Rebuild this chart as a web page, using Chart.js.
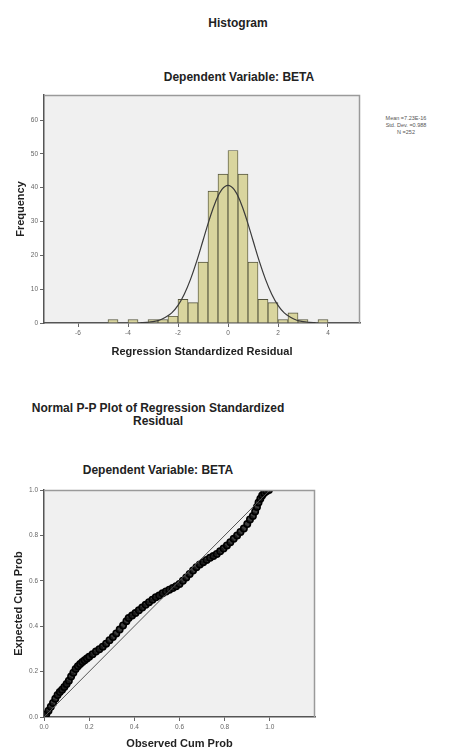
<!DOCTYPE html>
<html>
<head>
<meta charset="utf-8">
<script src="https://cdn.jsdelivr.net/npm/chart.js@4"></script>
<style>
  html, body { margin:0; padding:0; background:#fff; }
  body { width:449px; height:751px; position:relative; overflow:hidden; font-family:"Liberation Sans", Arial, sans-serif; }
  .t { position:absolute; text-align:center; font-weight:bold; color:#222; white-space:nowrap; }
  canvas { position:absolute; left:0; }
</style>
</head>
<body>
<div class="t" style="left:138px; width:200px; top:15px; line-height:16px; font-size:12px;">Histogram</div>
<div class="t" style="left:89px; width:300px; top:69px; line-height:16px; font-size:12px;">Dependent Variable: BETA</div>
<div class="t" id="stats" style="left:366px; width:80px; top:115px; line-height:7px; font-size:5.5px; font-weight:normal; color:#555;"></div>
<div class="t" style="left:0px; width:316px; top:402px; line-height:13px; font-size:12px;">Normal P-P Plot of Regression Standardized<br>Residual</div>
<div class="t" style="left:0px; width:316px; top:462px; line-height:16px; font-size:12px;">Dependent Variable: BETA</div>
<canvas id="hist" width="449" height="285" style="top:85px;"></canvas>
<canvas id="pp" width="449" height="271" style="top:480px;"></canvas>
<script>
// ---- Histogram data ----
const binCenters = [-4.6, -4.2, -3.8, -3.4, -3.0, -2.6, -2.2, -1.8, -1.4, -1.0, -0.6, -0.2, 0.2, 0.6, 1.0, 1.4, 1.8, 2.2, 2.6, 3.0, 3.4, 3.8];
const binCounts  = [1, 0, 1, 0, 1, 1, 2, 7, 6, 18, 39, 44, 51, 44, 18, 7, 6, 1, 3, 1, 0, 1];
const curveX = [-3.5, -3.25, -3.0, -2.75, -2.5, -2.25, -2.0, -1.75, -1.5, -1.25, -1.0, -0.75, -0.5, -0.25, 0, 0.25, 0.5, 0.75, 1.0, 1.25, 1.5, 1.75, 2.0, 2.25, 2.5, 2.75, 3.0, 3.25, 3.5];
const curveY = [0.1, 0.2, 0.4, 0.8, 1.7, 3.0, 5.2, 8.5, 12.9, 18.3, 24.4, 30.5, 35.8, 39.4, 40.7, 39.4, 35.8, 30.5, 24.4, 18.3, 12.9, 8.5, 5.2, 3.0, 1.7, 0.8, 0.4, 0.2, 0.1];
const histXTicks = [-6, -4, -2, 0, 2, 4];
const histYTicks = [0, 10, 20, 30, 40, 50, 60];
const statsLines = ["Mean =7.23E-16", "Std. Dev. =0.988", "N =252"];

// ---- P-P plot data ----
const ppObserved = [0.000,0.010,0.020,0.030,0.040,0.050,0.060,0.070,0.080,0.090,0.100,0.110,0.120,0.130,0.140,0.150,0.160,0.170,0.180,0.190,0.200,0.215,0.230,0.245,0.260,0.275,0.290,0.305,0.320,0.335,0.350,0.365,0.375,0.390,0.405,0.420,0.435,0.450,0.465,0.480,0.495,0.510,0.525,0.540,0.555,0.570,0.585,0.600,0.615,0.630,0.645,0.660,0.675,0.690,0.705,0.720,0.735,0.750,0.765,0.780,0.795,0.810,0.825,0.840,0.855,0.870,0.885,0.900,0.912,0.925,0.935,0.943,0.950,0.958,0.966,0.975,0.985,0.996];
const ppExpected = [0.000,0.012,0.028,0.045,0.062,0.080,0.097,0.110,0.120,0.132,0.145,0.160,0.178,0.195,0.212,0.224,0.233,0.242,0.250,0.258,0.265,0.276,0.288,0.298,0.310,0.323,0.338,0.352,0.368,0.385,0.403,0.422,0.436,0.447,0.458,0.470,0.482,0.494,0.506,0.517,0.527,0.535,0.545,0.553,0.561,0.568,0.576,0.586,0.600,0.615,0.630,0.645,0.660,0.672,0.682,0.692,0.701,0.709,0.718,0.730,0.742,0.756,0.770,0.785,0.800,0.815,0.830,0.850,0.870,0.886,0.905,0.925,0.945,0.962,0.976,0.987,0.995,1.000];
const ppXTicks = [0, 0.2, 0.4, 0.6, 0.8, 1.0];
const ppYTicks = [0, 0.2, 0.4, 0.6, 0.8, 1.0];

document.getElementById('stats').innerHTML = statsLines.join('<br>');

const frame = {
  id: 'frame',
  beforeDraw(chart) {
    const {ctx, chartArea: a} = chart;
    ctx.save();
    ctx.fillStyle = '#f0f0f0';
    ctx.fillRect(a.left, a.top, a.right - a.left, a.bottom - a.top);
    ctx.restore();
  },
  afterDraw(chart) {
    const {ctx, chartArea: a} = chart;
    ctx.save();
    ctx.strokeStyle = '#9a9a9a';
    ctx.lineWidth = 1.5;
    ctx.beginPath();
    ctx.moveTo(a.left, a.top + 0.5);
    ctx.lineTo(a.right - 0.5, a.top + 0.5);
    ctx.lineTo(a.right - 0.5, a.bottom);
    ctx.stroke();
    ctx.restore();
  }
};

const tickFont = { family: '"Liberation Sans", Arial, sans-serif', size: 6.5 };
const titleFont = { family: '"Liberation Sans", Arial, sans-serif', size: 11, weight: 'bold' };

function fixedTicks(arr) {
  return s => { s.ticks = arr.map(v => ({ value: v })); };
}

new Chart(document.getElementById('hist'), {
  type: 'bar',
  data: {
    datasets: [
      {
        type: 'line',
        data: curveX.map((x, i) => ({ x, y: curveY[i] })),
        borderColor: '#3a3a3a',
        borderWidth: 1.2,
        pointRadius: 0,
        tension: 0.4,
        fill: false,
        order: 0
      },
      {
        type: 'bar',
        data: binCenters.map((x, i) => ({ x, y: binCounts[i] })),
        backgroundColor: '#d9d59e',
        borderColor: '#55553f',
        borderWidth: 0.9,
        barPercentage: 1,
        categoryPercentage: 1,
        order: 1
      }
    ]
  },
  options: {
    responsive: false,
    animation: false,
    devicePixelRatio: 1,
    layout: { padding: { left: 0, right: 89, top: 10, bottom: 0 } },
    plugins: { legend: { display: false }, tooltip: { enabled: false } },
    scales: {
      x: {
        type: 'linear', min: -7.36, max: 5.28, offset: false,
        afterBuildTicks: fixedTicks(histXTicks),
        afterFit: s => { s.height = 47; },
        grid: { offset: false, drawOnChartArea: false, drawTicks: true, tickLength: 4, color: '#666' },
        border: { display: true, color: '#555', width: 1.5 },
        ticks: { font: tickFont, color: '#666', padding: 2, maxRotation: 0, autoSkip: false, callback: v => String(v) },
        title: { display: true, text: 'Regression Standardized Residual', font: titleFont, color: '#222', padding: { top: 0, bottom: 11 } }
      },
      y: {
        type: 'linear', min: 0, max: 67.4,
        afterBuildTicks: fixedTicks(histYTicks),
        afterFit: s => { s.width = 44; },
        grid: { offset: false, drawOnChartArea: false, drawTicks: true, tickLength: 4, color: '#666' },
        border: { display: true, color: '#555', width: 1.5 },
        ticks: { font: tickFont, color: '#666', padding: 2, autoSkip: false, callback: v => String(v) },
        title: { display: true, text: 'Frequency', font: titleFont, color: '#222', padding: { top: 14, bottom: 0 } }
      }
    }
  },
  plugins: [frame]
});

new Chart(document.getElementById('pp'), {
  type: 'scatter',
  data: {
    datasets: [
      {
        type: 'line',
        data: [{ x: 0, y: 0 }, { x: 1, y: 1 }],
        borderColor: '#555',
        borderWidth: 1,
        pointRadius: 0,
        fill: false,
        order: 0
      },
      {
        type: 'scatter',
        data: ppObserved.map((x, i) => ({ x, y: ppExpected[i] })),
        pointRadius: 3.2,
        pointBorderWidth: 1.6,
        borderColor: '#000',
        backgroundColor: 'rgba(30,30,30,0.85)',
        order: 1
      }
    ]
  },
  options: {
    responsive: false,
    animation: false,
    devicePixelRatio: 1,
    layout: { padding: { left: 0, right: 134, top: 10, bottom: 0 } },
    plugins: { legend: { display: false }, tooltip: { enabled: false } },
    scales: {
      x: {
        type: 'linear', min: 0, max: 1.2, offset: false,
        afterBuildTicks: fixedTicks(ppXTicks),
        afterFit: s => { s.height = 34; },
        grid: { offset: false, drawOnChartArea: false, drawTicks: true, tickLength: 4, color: '#666' },
        border: { display: true, color: '#555', width: 1.5 },
        ticks: { font: tickFont, color: '#666', padding: 2, maxRotation: 0, autoSkip: false, callback: v => v.toFixed(1) },
        title: { display: true, text: 'Observed Cum Prob', font: titleFont, color: '#222', padding: { top: 0, bottom: 0 } }
      },
      y: {
        type: 'linear', min: 0, max: 1.0,
        afterBuildTicks: fixedTicks(ppYTicks),
        afterFit: s => { s.width = 44; },
        grid: { offset: false, drawOnChartArea: false, drawTicks: true, tickLength: 4, color: '#666' },
        border: { display: true, color: '#555', width: 1.5 },
        ticks: { font: tickFont, color: '#666', padding: 2, autoSkip: false, callback: v => v.toFixed(1) },
        title: { display: true, text: 'Expected Cum Prob', font: titleFont, color: '#222', padding: { top: 12, bottom: 0 } }
      }
    }
  },
  plugins: [frame]
});
</script>
</body>
</html>
